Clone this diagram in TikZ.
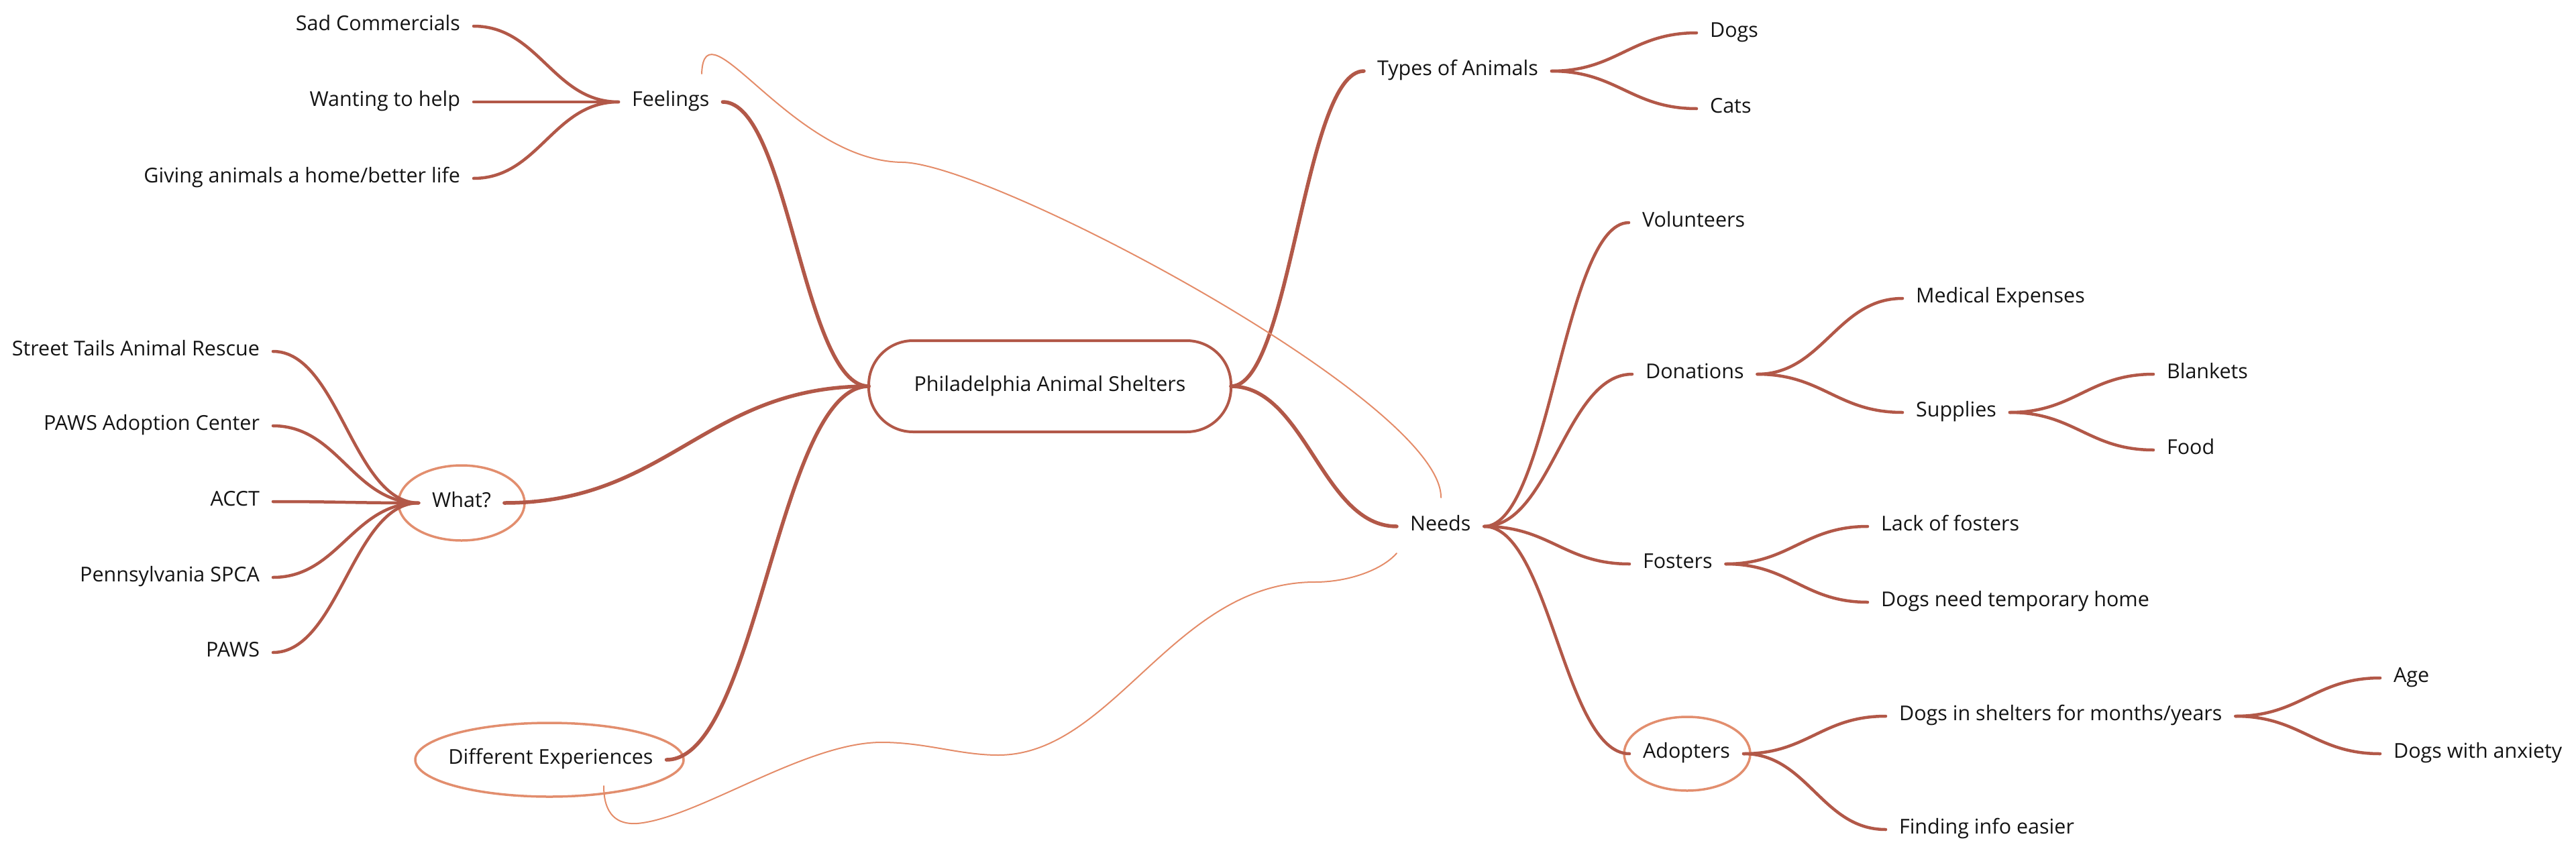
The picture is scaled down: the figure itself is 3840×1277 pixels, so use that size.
\documentclass[tikz,border=0pt]{standalone}
\usepackage{fontspec}
\setmainfont{Open Sans}
\usetikzlibrary{calc}
\definecolor{branchc}{RGB}{178,88,72}
\definecolor{ellc}{RGB}{226,142,110}
\definecolor{relc}{RGB}{228,140,105}
\definecolor{txt}{RGB}{20,20,20}
\tikzset{
 lbl/.style={font=\fontsize{30.5}{36}\selectfont, text=txt, inner xsep=20pt, inner ysep=0pt,
   text height=21.5pt, text depth=8.5pt, outer sep=0pt},
 lft/.style={lbl, anchor=east},
 rgt/.style={lbl, anchor=west},
 branch/.style={draw=branchc, line width=4.5pt, line cap=round},
 mainbranch/.style={branch, line width=5.5pt},
 ell/.style={draw=ellc, line width=3.5pt},
 rel/.style={draw=relc, line width=2pt, line cap=round},
 rootbox/.style={draw=branchc, line width=4pt, fill=white, rounded corners=66pt,
   minimum width=540pt, minimum height=136pt, inner sep=0pt, outer sep=0pt,
   font=\fontsize{30.5}{36}\selectfont, text=txt}
}
\newcommand\conn[3][branch]{\draw[#1] let \p1=(#2), \p2=(#3), \n1={0.45*(\x2-\x1)} in
  (\p1) .. controls ($(\p1)+(\n1,0pt)$) and ($(\p2)-(\n1,0pt)$) .. (\p2);}
\begin{document}
\begin{tikzpicture}[x=1pt,y=-1pt]
\useasboundingbox (0,0) rectangle (3840,1277);
% root
\node[rootbox] (root) at (1565,576) {Philadelphia Animal Shelters};
% left: feelings
\node[rgt] (feel) at (922,152) {Feelings};
\node[lft] (sad) at (706,39) {Sad Commercials};
\node[lft] (want) at (706,152) {Wanting to help};
\node[lft] (give) at (706,266) {Giving animals a home/better life};
% left: what
\node[lbl] (what) at (688,750) {What?};
\node[lft] (street) at (407,524) {Street Tails Animal Rescue};
\node[lft] (pawsac) at (407,635) {PAWS Adoption Center};
\node[lft] (acct) at (407,748) {ACCT};
\node[lft] (penn) at (407,861) {Pennsylvania SPCA};
\node[lft] (paws) at (407,973) {PAWS};
% left: different experiences
\node[lbl] (diff) at (821,1133) {Different Experiences};
% right
\node[rgt] (types) at (2033,106) {Types of Animals};
\node[rgt] (dogs) at (2529,49) {Dogs};
\node[rgt] (cats) at (2529,162) {Cats};
\node[rgt] (needs) at (2082,785) {Needs};
\node[rgt] (vol) at (2428,332) {Volunteers};
\node[rgt] (don) at (2433,558) {Donations};
\node[rgt] (med) at (2836,445) {Medical Expenses};
\node[rgt] (sup) at (2836,615) {Supplies};
\node[rgt] (blank) at (3210,558) {Blankets};
\node[rgt] (food) at (3210,671) {Food};
\node[rgt] (fost) at (2429,841) {Fosters};
\node[rgt] (lack) at (2784,785) {Lack of fosters};
\node[rgt] (temp) at (2784,898) {Dogs need temporary home};
\node[rgt] (adopt) at (2429,1124) {Adopters};
\node[rgt] (shel) at (2811,1068) {Dogs in shelters for months/years};
\node[rgt] (find) at (2811,1237) {Finding info easier};
\node[rgt] (age) at (3548,1011) {Age};
\node[rgt] (anx) at (3548,1124) {Dogs with anxiety};
% ellipses
\draw[ell] (what.center) ellipse [x radius=94pt, y radius=56pt];
\draw[ell] ($(diff.center)+(-2pt,0pt)$) ellipse [x radius=200pt, y radius=55pt];
\draw[ell] ($(adopt.center)+(1pt,0pt)$) ellipse [x radius=94pt, y radius=55pt];
% connectors
\conn{sad.east}{feel.west}
\conn{want.east}{feel.west}
\conn{give.east}{feel.west}
\conn[mainbranch]{feel.east}{root.west}
\conn{street.east}{what.west}
\conn{pawsac.east}{what.west}
\conn{acct.east}{what.west}
\conn{penn.east}{what.west}
\conn{paws.east}{what.west}
\conn[mainbranch]{what.east}{root.west}
\conn[mainbranch]{diff.east}{root.west}
\conn[mainbranch]{root.east}{types.west}
\conn[mainbranch]{root.east}{needs.west}
\conn{types.east}{dogs.west}
\conn{types.east}{cats.west}
\conn{needs.east}{vol.west}
\conn{needs.east}{don.west}
\conn{needs.east}{fost.west}
\conn{needs.east}{adopt.west}
\conn{don.east}{med.west}
\conn{don.east}{sup.west}
\conn{sup.east}{blank.west}
\conn{sup.east}{food.west}
\conn{fost.east}{lack.west}
\conn{fost.east}{temp.west}
\conn{adopt.east}{shel.west}
\conn{adopt.east}{find.west}
\conn{shel.east}{age.west}
\conn{shel.east}{anx.west}
% relationship curves
\coordinate (r1a) at (1046,110);
\coordinate (r1b) at (2148,742);
\draw[rel] (r1a) .. controls (1050,0) and (1180,240) .. (1345,242)
  .. controls (1480,244) and (2150,600) .. (r1b);
\coordinate (r2a) at (900,1172);
\coordinate (r2b) at (2082,825);
\draw[rel] (r2a) .. controls (900,1215) and (920,1230) .. (950,1228)
  .. controls (1040,1220) and (1200,1107) .. (1314,1107)
  .. controls (1380,1107) and (1430,1126) .. (1488,1126)
  .. controls (1660,1126) and (1750,868) .. (1960,868)
  .. controls (2010,868) and (2060,850) .. (r2b);
\end{tikzpicture}
\end{document}
